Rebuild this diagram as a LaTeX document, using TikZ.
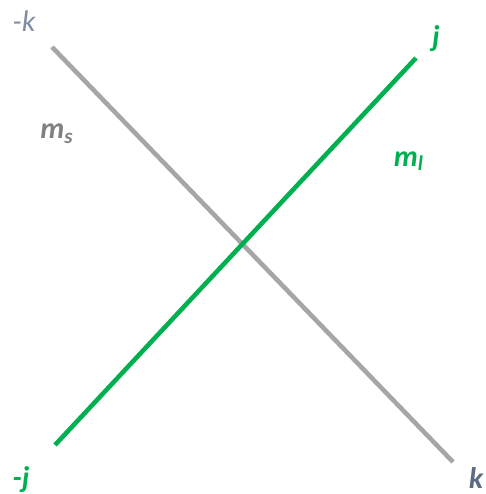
\documentclass[tikz,border=0pt]{standalone}
\usepackage{fontspec}
\setmainfont{Carlito}
\usepackage{xcolor}
\definecolor{axisGreen}{HTML}{00B050}
\definecolor{axisGray}{HTML}{A6A6A6}
\definecolor{labelGray}{HTML}{808080}
\definecolor{labelSlate}{HTML}{7F8EA3}
\definecolor{labelDarkSlate}{HTML}{5A6B82}
\usetikzlibrary{positioning}

\begin{document}
\begin{tikzpicture}[x=0.02cm, y=-0.02cm,
    every node/.style={font=\fontsize{17}{20}\selectfont\bfseries\itshape, inner sep=0pt},
    grayaxis/.style={draw=axisGray, line width=2.6pt},
    greenaxis/.style={draw=axisGreen, line width=2.6pt},
    graylbl/.style={text=labelGray},
    slatelbl/.style={text=labelSlate, font=\fontsize{17}{20}\selectfont\itshape},
    darklbl/.style={text=labelDarkSlate},
    greenlbl/.style={text=axisGreen}]
  \useasboundingbox (0,0) rectangle (485,494);
  % line ends
  \coordinate (kneg) at (52,47);
  \coordinate (kpos) at (453,462);
  \coordinate (jneg) at (55,445);
  \coordinate (jpos) at (416,58);
  \draw[grayaxis] (kneg) -- (kpos);
  \draw[greenaxis] (jneg) -- (jpos);
  % labels
  \node[slatelbl] (lkneg) at (24,21) {-k};
  \node[darklbl] (lkpos) at (476,478) {k};
  \node[greenlbl] (ljpos) at (436,39) {j};
  \node[greenlbl] (ljneg) at (21,480) {-j};
  \node[graylbl] (lms) at (57,134) {m\textsubscript{s}};
  \node[greenlbl] (lml) at (409,161) {m\textsubscript{l}};
\end{tikzpicture}
\end{document}
